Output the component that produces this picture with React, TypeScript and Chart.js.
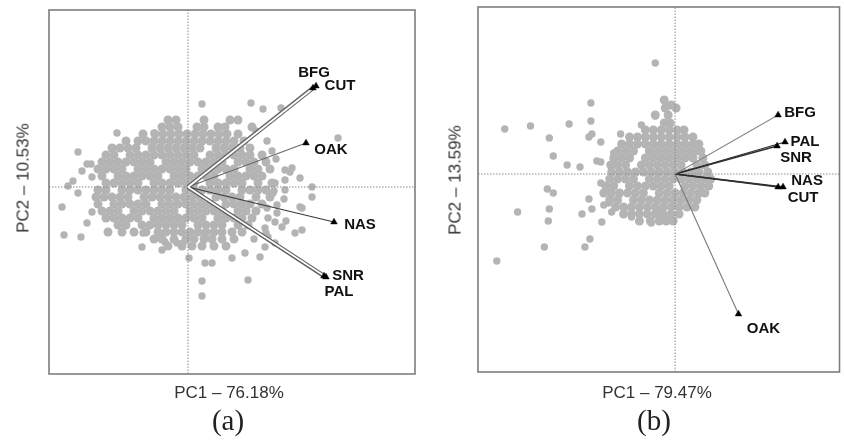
import { useEffect, useRef } from "react";
import { Chart, registerables } from "chart.js";

Chart.register(...registerables);

// ---------------- Panel (a) data ----------------
const titleXA = "PC1 – 76.18%";
const titleYA = "PC2 – 10.53%";
const captionA = "(a)";

// sample scores, dense core given as rows: [y, x values]
const coreRowsA: [number, number[]][] = [
  [6.7, [-2.0, -1.2, 1.6, 4.2, 5.0]],
  [6.0, [-2.6, -1.8, -1.0, 0.9, 1.6, 3.0, 3.7, 6.4]],
  [5.3, [-4.5, -3.3, -2.5, -1.7, -0.9, -0.1, 0.7, 1.5, 2.3, 3.1, 3.9, 5.0]],
  [4.6, [-6.2, -5.0, -4.2, -3.4, -2.6, -1.8, -1.0, -0.2, 0.6, 1.4, 2.2, 3.0, 3.8, 4.6, 5.6]],
  [3.9, [-7.6, -6.8, -6.0, -5.2, -3.6, -2.8, -2.0, -1.2, -0.4, 0.4, 1.2, 2.8, 3.6, 4.4, 5.2, 6.2]],
  [3.2, [-8.2, -7.4, -5.8, -5.0, -4.2, -3.4, -2.6, -1.8, -1.0, -0.2, 0.6, 2.2, 3.0, 3.8, 4.6, 5.4, 6.2, 7.4]],
  [2.5, [-8.6, -7.8, -7.0, -6.2, -5.4, -4.6, -3.8, -2.2, -1.4, -0.6, 0.2, 1.0, 1.8, 2.6, 3.4, 5.0, 5.8, 6.6, 7.8]],
  [1.8, [-9.0, -8.2, -7.4, -6.6, -5.0, -4.2, -3.4, -2.6, -1.8, -1.0, -0.2, 1.4, 2.2, 3.0, 3.8, 4.6, 6.2, 7.0, 8.2]],
  [1.1, [-8.6, -7.0, -6.2, -5.4, -4.6, -3.8, -3.0, -1.4, -0.6, 0.2, 1.0, 1.8, 2.6, 4.2, 5.0, 5.8, 6.6, 7.4]],
  [0.4, [-8.2, -7.4, -6.6, -5.8, -5.0, -3.4, -2.6, -1.8, -1.0, -0.2, 0.6, 2.2, 3.0, 3.8, 4.6, 5.4, 7.0, 8.4]],
  [-0.3, [-9.0, -8.2, -6.6, -5.8, -5.0, -4.2, -3.4, -2.6, -1.8, -0.2, 0.6, 1.4, 2.2, 3.0, 3.8, 5.4, 6.2, 7.0, 7.8]],
  [-1.0, [-9.2, -8.4, -7.6, -6.8, -6.0, -4.4, -3.6, -2.8, -2.0, -1.2, -0.4, 0.4, 1.2, 2.8, 3.6, 4.4, 5.2, 6.8, 8.2]],
  [-1.7, [-9.0, -7.4, -6.6, -5.8, -5.0, -4.2, -2.6, -1.8, -1.0, -0.2, 0.6, 1.4, 2.2, 3.8, 4.6, 5.4, 6.2, 7.4]],
  [-2.4, [-8.6, -7.8, -7.0, -5.4, -4.6, -3.8, -3.0, -2.2, -1.4, 0.2, 1.0, 1.8, 2.6, 3.4, 5.0, 5.8, 6.8]],
  [-3.1, [-8.2, -7.4, -6.6, -5.8, -5.0, -3.4, -2.6, -1.8, -1.0, -0.2, 0.6, 1.4, 3.0, 3.8, 4.6, 5.4, 6.4]],
  [-3.8, [-7.0, -6.2, -4.6, -3.8, -3.0, -2.2, -1.4, -0.6, 1.0, 1.8, 2.6, 3.4, 5.0, 6.0]],
  [-4.5, [-8.0, -6.6, -5.4, -4.2, -3.0, -2.2, -1.4, -0.6, 0.2, 1.0, 1.8, 2.6, 3.4, 4.4, 5.4]],
  [-5.2, [-3.4, -2.6, -1.4, -0.2, 0.6, 1.6, 2.4, 3.4, 4.6]],
  [-5.9, [-2.0, -0.6, 0.4, 1.4, 2.6, 3.8]],
];

const outliersA: [number, number][] = [
  [1.4, 8.3], [6.3, 8.4], [7.5, 7.8], [9.3, 7.9], [15.0, 4.9], [-7.1, 5.4], [-11.0, 3.5],
  [-10.1, 2.3], [-9.7, 2.3], [-10.6, 1.6], [-9.6, 1.0], [-11.5, 0.6], [-12.0, 0.1], [-11.0, -0.6],
  [-12.6, -2.0], [-9.6, -2.5], [-10.1, -3.6], [-12.4, -4.8], [-10.7, -5.0], [-4.5, -4.6],
  [-4.6, -6.0], [-3.4, 5.4], [-7.5, 3.9], [-8.6, 1.5], [-2.8, -5.0], [-2.3, -5.5], [-2.6, -6.3],
  [-1.1, -5.6], [-0.5, -5.6], [0.1, -7.1], [1.4, -9.4], [1.4, -10.9], [6.0, -9.3], [2.4, -7.6],
  [1.7, -7.6], [4.4, -7.1], [5.7, -6.6], [7.2, -7.0], [1.7, -5.0], [7.7, -6.0], [8.7, -5.6],
  [10.7, -4.6], [11.4, -4.3], [11.4, -2.1], [12.4, -1.0], [12.4, 0.0], [11.2, 0.9], [10.2, 1.5],
  [9.7, 0.7], [10.4, 1.9], [8.8, 2.8], [9.6, -1.2], [8.9, -2.6], [9.8, -3.4], [8.4, 3.6],
  [7.9, 4.6], [6.8, 5.6], [8.6, -0.4], [7.8, -4.6], [6.6, -5.2], [9.7, 1.7], [8.7, 0.4],
  [9.7, -0.3], [8.5, -0.6], [8.9, -1.8], [7.9, -2.1], [8.0, -3.1], [8.7, -3.5], [7.7, -4.1],
  [11.2, -2.0], [8.0, -5.0], [9.4, -4.0],
];

const varsA = ["BFG", "CUT", "OAK", "NAS", "SNR", "PAL"];
const loadXA = [12.5, 12.8, 11.8, 14.6, 13.6, 13.8];
const loadYA = [9.9, 10.1, 4.4, -3.5, -8.9, -9.0];

// ---------------- Panel (b) data ----------------
const titleXB = "PC1 – 79.47%";
const titleYB = "PC2 – 13.59%";
const captionB = "(b)";

const coreRowsB: [number, number[]][] = [
  [7.4, [-1.1]],
  [6.9, [-0.4]],
  [6.6, [-1.0, 0.1]],
  [5.9, [-2.0, -0.7]],
  [5.1, [-1.1, -0.5]],
  [4.4, [-3.0, -2.2, -1.4, -0.6, 0.2, 0.9]],
  [3.7, [-4.6, -3.8, -3.0, -2.2, -1.4, -0.6, 0.2, 1.0, 1.8]],
  [3.0, [-5.4, -4.6, -3.8, -3.0, -2.2, -1.4, -0.6, 0.2, 1.0, 1.8, 2.4]],
  [2.3, [-5.8, -5.0, -4.2, -2.6, -1.8, -1.0, -0.2, 0.6, 1.4, 2.2, 2.6]],
  [1.6, [-6.2, -5.4, -4.6, -3.0, -2.2, -1.4, -0.6, 0.2, 1.0, 1.8, 2.8]],
  [0.9, [-6.5, -5.8, -5.0, -3.4, -2.6, -1.8, -1.0, -0.2, 0.6, 2.2, 3.0]],
  [0.2, [-6.4, -5.6, -4.8, -4.0, -3.2, -2.4, -1.6, -0.8, 0.0, 0.8, 1.6, 2.4, 3.3]],
  [-0.5, [-6.6, -5.8, -5.0, -4.2, -2.6, -1.8, -1.0, -0.2, 0.6, 1.4, 2.2, 3.0, 3.6]],
  [-1.2, [-7.0, -6.2, -4.6, -3.8, -3.0, -2.2, -1.4, -0.6, 1.0, 1.8, 2.6, 3.4]],
  [-1.9, [-7.2, -6.4, -5.6, -4.8, -4.0, -3.2, -1.6, -0.8, 0.0, 0.8, 1.6, 2.4, 3.0]],
  [-2.6, [-6.6, -5.8, -4.2, -3.4, -2.6, -1.8, -1.0, -0.2, 0.6, 1.4, 2.2]],
  [-3.3, [-6.0, -5.2, -4.4, -3.6, -2.8, -2.0, -1.2, -0.4, 0.4, 1.2, 2.0]],
  [-4.0, [-5.2, -4.4, -3.6, -2.8, -2.0, -1.2, -0.4, 0.4]],
  [-4.7, [-3.6, -2.5, -1.6, -0.9, -0.2]],
];

const outliersB: [number, number][] = [
  [-2.0, 11.1], [-8.5, 7.1], [-10.7, 5.0], [-8.5, 5.3], [-8.7, 3.7], [-8.4, 4.0], [-7.5, 3.2],
  [-5.5, 4.0], [-3.4, 4.9], [-2.0, 5.8], [-12.7, 3.6], [-12.3, 1.8], [-10.9, 0.9], [-9.6, 0.7],
  [-14.6, 4.8], [-17.2, 4.5], [-7.9, 1.3], [-7.5, 1.2], [-6.2, 2.1], [-7.5, -0.9], [-12.9, -1.5],
  [-12.3, -1.9], [-12.7, -3.5], [-12.8, -4.7], [-15.9, -3.8], [-8.7, -2.5], [-8.4, -3.5],
  [-9.4, -4.0], [-7.4, -4.8], [-8.6, -6.5], [-9.1, -7.3], [-13.2, -7.3], [-18.0, -8.7],
  [-6.7, -1.8], [-7.2, -3.1], [-6.7, -2.9], [-4.4, -4.3], [-2.4, -4.9], [-1.0, -4.3],
  [-1.7, -3.9], [-6.4, -3.8], [-5.1, -3.4],
];

const varsB = ["BFG", "PAL", "SNR", "NAS", "CUT", "OAK"];
const loadXB = [10.4, 11.1, 10.3, 10.9, 10.4, 6.4];
const loadYB = [5.9, 3.2, 2.8, -1.3, -1.3, -14.0];

// ---------------- styles (not data) ----------------
const rangeA = { xMin: -13.9, xMax: 22.7, yMin: -18.7, yMax: 17.7 };
const rangeB = { xMin: -19.9, xMax: 16.6, yMin: -19.8, yMax: 16.7 };

// arrow line styles [color, width, drawOrder]
const lineStyleA: [string, number, number][] = [
  ["#666666", 4.2, 2], ["#ffffff", 1.7, 1], ["#6a6a6a", 1.2, 2],
  ["#3a3a3a", 1.2, 2], ["#5a5a5a", 4.2, 2], ["#ffffff", 1.7, 1],
];
const lineStyleB: [string, number, number][] = [
  ["#8a8a8a", 1.1, 2], ["#2e2e2e", 1.3, 2], ["#2e2e2e", 1.3, 2],
  ["#2e2e2e", 1.3, 2], ["#2e2e2e", 1.3, 2], ["#7a7a7a", 1.1, 2],
];
// label centre offsets (px) from arrow tip
const labelOffA: [number, number][] = [[1, -15], [24, 0], [25, 7], [26, 3], [24, 0], [13, 15]];
const labelOffB: [number, number][] = [[22, -2], [20, 0], [19, 12], [24, -6], [25, 11], [25, 15]];

type Pt = { x: number; y: number };

function rowsToPoints(rows: [number, number[]][]): Pt[] {
  const pts: Pt[] = [];
  rows.forEach(([y, xs]) => xs.forEach((x) => pts.push({ x, y })));
  return pts;
}

interface PanelCfg {
  rows: [number, number[]][];
  outliers: [number, number][];
  names: string[];
  lx: number[];
  ly: number[];
  range: { xMin: number; xMax: number; yMin: number; yMax: number };
  padding: { left: number; top: number; right: number; bottom: number };
  lineStyles: [string, number, number][];
  labelOff: [number, number][];
}

function makeConfig(p: PanelCfg): any {
  const datasets: any[] = [];
  datasets.push({
    type: "scatter",
    data: p.lx.map((x, i) => ({ x, y: p.ly[i] })),
    pointStyle: "triangle",
    pointRadius: 3.8,
    pointBackgroundColor: "#000",
    pointBorderColor: "#000",
    pointBorderWidth: 0.5,
    order: 0,
  });
  p.names.forEach((n, i) => {
    const [c, w, o] = p.lineStyles[i];
    datasets.push({
      type: "line",
      label: n,
      data: [{ x: 0, y: 0 }, { x: p.lx[i], y: p.ly[i] }],
      borderColor: c,
      borderWidth: w,
      pointRadius: 0,
      fill: false,
      order: o,
    });
  });
  datasets.push({
    type: "line",
    data: [{ x: 0, y: p.range.yMin }, { x: 0, y: p.range.yMax }],
    borderColor: "#8a8a8a",
    borderWidth: 1,
    borderDash: [1.5, 1.5],
    pointRadius: 0,
    order: 3,
  });
  datasets.push({
    type: "line",
    data: [{ x: p.range.xMin, y: 0 }, { x: p.range.xMax, y: 0 }],
    borderColor: "#8a8a8a",
    borderWidth: 1,
    borderDash: [1.5, 1.5],
    pointRadius: 0,
    order: 3,
  });
  datasets.push({
    type: "scatter",
    data: rowsToPoints(p.rows),
    pointRadius: 4.5,
    pointBackgroundColor: "#b4b4b4",
    pointBorderWidth: 0,
    order: 4,
  });
  datasets.push({
    type: "scatter",
    data: p.outliers.map(([x, y]) => ({ x, y })),
    pointRadius: 3.7,
    pointBackgroundColor: "#b4b4b4",
    pointBorderWidth: 0,
    order: 4,
  });

  const framePlugin = {
    id: "frameLabels",
    afterDatasetsDraw(chart: any) {
      const { ctx, chartArea } = chart;
      const xs = chart.scales.x;
      const ys = chart.scales.y;
      ctx.save();
      ctx.strokeStyle = "#7d7d7d";
      ctx.lineWidth = 1.6;
      ctx.strokeRect(chartArea.left, chartArea.top, chartArea.right - chartArea.left, chartArea.bottom - chartArea.top);
      ctx.font = 'bold 15px "Liberation Sans", Arial, sans-serif';
      ctx.fillStyle = "#111";
      ctx.textAlign = "center";
      ctx.textBaseline = "middle";
      p.names.forEach((n, i) => {
        const px = xs.getPixelForValue(p.lx[i]) + p.labelOff[i][0];
        const py = ys.getPixelForValue(p.ly[i]) + p.labelOff[i][1];
        ctx.fillText(n, px, py);
      });
      ctx.restore();
    },
  };

  return {
    type: "scatter",
    data: { datasets },
    options: {
      animation: false,
      responsive: false,
      events: [],
      layout: { padding: p.padding },
      plugins: { legend: { display: false }, tooltip: { enabled: false } },
      scales: {
        x: { type: "linear", min: p.range.xMin, max: p.range.xMax, display: false },
        y: { type: "linear", min: p.range.yMin, max: p.range.yMax, display: false },
      },
    },
    plugins: [framePlugin],
  };
}

function Panel(props: { cfg: PanelCfg; left: number; width: number }) {
  const ref = useRef<HTMLCanvasElement | null>(null);
  useEffect(() => {
    if (!ref.current) return;
    const chart = new Chart(ref.current, makeConfig(props.cfg));
    return () => chart.destroy();
  }, []);
  return (
    <canvas
      ref={ref}
      width={props.width}
      height={440}
      style={{ position: "absolute", left: props.left, top: 0, width: props.width, height: 440 }}
    />
  );
}

const axisFont: any = {
  position: "absolute",
  fontFamily: '"Liberation Sans", Arial, sans-serif',
  fontSize: 17,
  color: "#333",
  whiteSpace: "nowrap",
  lineHeight: 1,
};
const capFont: any = {
  position: "absolute",
  fontFamily: '"Liberation Serif", "Times New Roman", serif',
  fontSize: 29,
  color: "#222",
  whiteSpace: "nowrap",
  lineHeight: 1,
};

function Label(props: { text: string; x: number; y: number; rot?: boolean; style: any }) {
  return (
    <div
      style={{
        ...props.style,
        left: props.x,
        top: props.y,
        transform: `translate(-50%, -50%)${props.rot ? " rotate(-90deg)" : ""}`,
      }}
    >
      {props.text}
    </div>
  );
}

export default function App() {
  const cfgA: PanelCfg = {
    rows: coreRowsA,
    outliers: outliersA,
    names: varsA,
    lx: loadXA,
    ly: loadYA,
    range: rangeA,
    padding: { left: 49, top: 10, right: 5, bottom: 66 },
    lineStyles: lineStyleA,
    labelOff: labelOffA,
  };
  const cfgB: PanelCfg = {
    rows: coreRowsB,
    outliers: outliersB,
    names: varsB,
    lx: loadXB,
    ly: loadYB,
    range: rangeB,
    padding: { left: 58, top: 7, right: 1, bottom: 68 },
    lineStyles: lineStyleB,
    labelOff: labelOffB,
  };
  return (
    <div style={{ position: "absolute", left: 0, top: 0, width: 844, height: 440, background: "#fff", overflow: "hidden" }}>
      <Panel cfg={cfgA} left={0} width={420} />
      <Panel cfg={cfgB} left={420} width={424} />
      <Label text={titleXA} x={229} y={392} style={axisFont} />
      <Label text={titleYA} x={23} y={178} rot style={axisFont} />
      <Label text={captionA} x={228} y={420} style={capFont} />
      <Label text={titleXB} x={657} y={392} style={axisFont} />
      <Label text={titleYB} x={455} y={180} rot style={axisFont} />
      <Label text={captionB} x={654} y={420} style={capFont} />
    </div>
  );
}
